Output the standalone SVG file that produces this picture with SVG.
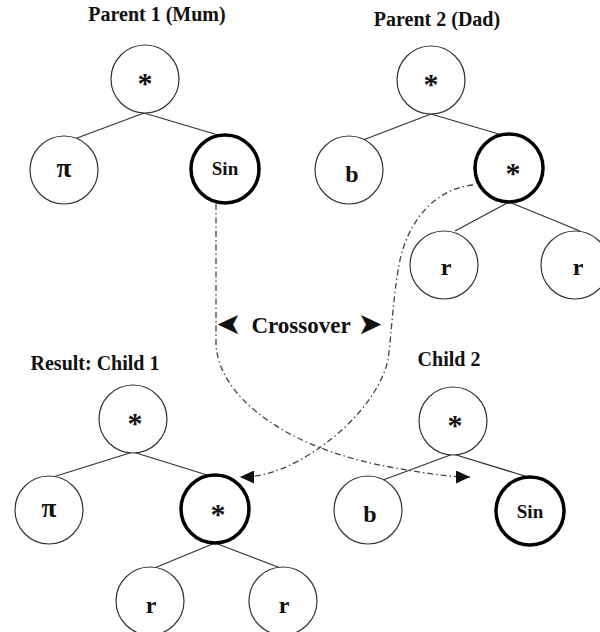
<svg xmlns="http://www.w3.org/2000/svg" width="600" height="632" viewBox="0 0 600 632">
<style>
  .n { fill: #fff; stroke: #333; stroke-width: 1.2; }
  .sel { fill: #fff; stroke: #000; stroke-width: 3.5; }
  .lbl { font-family: "Liberation Serif", "Times New Roman", serif; font-weight: bold; font-size: 24px; text-anchor: middle; fill: #111; }
  .sm { font-size: 19px; }
  .ast { font-size: 30px; }
  .pi { font-size: 27px; }
  .title { font-family: "Liberation Serif", "Times New Roman", serif; font-weight: bold; font-size: 20px; text-anchor: middle; fill: #111; }
  .edge { stroke: #333; stroke-width: 1.3; fill: none; }
  .xo { stroke: #444; stroke-width: 1.3; fill: none; stroke-dasharray: 6 3 1.5 3; }
  .sym { font-family: "DejaVu Sans", sans-serif; font-size: 30px; text-anchor: middle; fill: #111; }
</style>
<defs>
  <marker id="ah" markerUnits="userSpaceOnUse" markerWidth="15" markerHeight="13" refX="14" refY="6.5" orient="auto">
    <path d="M0,0 L14,6.5 L0,13 z" fill="#111"/>
  </marker>
</defs>
<rect width="600" height="632" fill="#fff"/>

<g id="titles">
  <text class="title" x="157" y="21">Parent 1 (Mum)</text>
  <text class="title" x="437" y="26">Parent 2 (Dad)</text>
  <text class="title" x="95" y="370">Result: Child 1</text>
  <text class="title" x="449" y="366">Child 2</text>
</g>

<g id="edges">
  <line class="edge" x1="144" y1="113" x2="77" y2="138"/>
  <line class="edge" x1="144" y1="113" x2="218" y2="135"/>
  <line class="edge" x1="431" y1="114" x2="363" y2="140"/>
  <line class="edge" x1="431" y1="114" x2="502" y2="135"/>
  <line class="edge" x1="509" y1="202" x2="455" y2="231"/>
  <line class="edge" x1="509" y1="202" x2="580" y2="231"/>
  <line class="edge" x1="133" y1="452" x2="53" y2="477"/>
  <line class="edge" x1="133" y1="452" x2="207" y2="475"/>
  <line class="edge" x1="215" y1="543" x2="152" y2="569"/>
  <line class="edge" x1="215" y1="543" x2="283" y2="569"/>
  <line class="edge" x1="453" y1="454" x2="383" y2="480"/>
  <line class="edge" x1="453" y1="454" x2="528" y2="477"/>
</g>

<g id="crossover">
  <path class="xo" marker-end="url(#ah)" d="M216,204 L216,345 C218,375 240,405 283,430 C310,446 350,460 390,467 C420,472 445,477 470,477"/>
  <path class="xo" marker-end="url(#ah)" d="M473,185 C440,188 410,215 400,260 C393,295 392,330 388,360 C380,395 345,435 300,460 C278,472 260,477 240,477"/>
</g>

<g id="p1-root"><circle class="n" cx="145" cy="79" r="34"/><text class="lbl ast" x="145" y="93">*</text></g>
<g id="p1-pi"><circle class="n" cx="64" cy="170" r="34"/><text class="lbl pi" x="64" y="177">π</text></g>
<g id="p1-sin"><circle class="sel" cx="225" cy="169" r="34"/><text class="lbl sm" x="225" y="175">Sin</text></g>

<g id="p2-root"><circle class="n" cx="431" cy="80" r="34"/><text class="lbl ast" x="431" y="94">*</text></g>
<g id="p2-b"><circle class="n" cx="349" cy="170" r="34"/><text class="lbl" x="352" y="182">b</text></g>
<g id="p2-star"><circle class="sel" cx="509" cy="168" r="34"/><text class="lbl ast" x="513" y="183">*</text></g>
<g id="p2-r1"><circle class="n" cx="444" cy="265" r="34"/><text class="lbl" x="446" y="275">r</text></g>
<g id="p2-r2"><circle class="n" cx="575" cy="265" r="34"/><text class="lbl" x="578" y="275">r</text></g>

<g id="c1-root"><circle class="n" cx="133" cy="419" r="34"/><text class="lbl ast" x="135" y="433">*</text></g>
<g id="c1-pi"><circle class="n" cx="49" cy="510" r="34"/><text class="lbl pi" x="49" y="517">π</text></g>
<g id="c1-star"><circle class="sel" cx="215" cy="509" r="34"/><text class="lbl ast" x="218" y="524">*</text></g>
<g id="c1-r1"><circle class="n" cx="150" cy="601" r="34"/><text class="lbl" x="151" y="613">r</text></g>
<g id="c1-r2"><circle class="n" cx="283" cy="601" r="34"/><text class="lbl" x="284" y="613">r</text></g>

<g id="c2-root"><circle class="n" cx="453" cy="421" r="34"/><text class="lbl ast" x="455" y="435">*</text></g>
<g id="c2-b"><circle class="n" cx="368" cy="510" r="34"/><text class="lbl" x="370" y="522">b</text></g>
<g id="c2-sin"><circle class="sel" cx="530" cy="511" r="34"/><text class="lbl sm" x="530" y="518">Sin</text></g>

<g id="crossover-label">
  <text class="sym" transform="translate(229,334) scale(-1,1)" x="0" y="0">➤</text>
  <text class="title" x="301" y="333" style="font-size:23px">Crossover</text>
  <text class="sym" x="370" y="334">➤</text>
</g>
</svg>
